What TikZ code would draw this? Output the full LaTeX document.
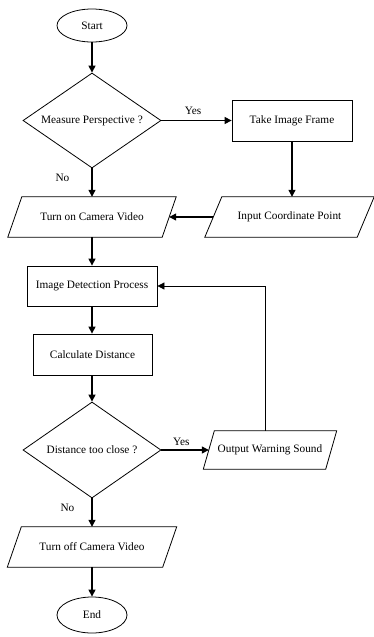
\documentclass[tikz,border=0pt]{standalone}
\usepackage{fontspec}
\setmainfont{Liberation Serif}
\usetikzlibrary{shapes.geometric,arrows.meta,calc}
\begin{document}
\begin{tikzpicture}[x=1pt,y=1pt,
  every node/.style={font=\fontsize{11.3}{13}\selectfont, inner sep=0pt},
  box/.style={draw, line width=0.8pt, rectangle},
  term/.style={draw, line width=0.8pt, ellipse, minimum width=70pt, minimum height=33pt},
  dec/.style={draw, line width=0.8pt, diamond, aspect=1.45, minimum width=138pt, minimum height=95pt},
  io/.style={rectangle, minimum height=40pt},
  pline/.style={line width=0.8pt},
  conn/.style={line width=1.2pt, -{Triangle[length=7pt,width=7pt]}},
  lab/.style={font=\fontsize{11.3}{13}\selectfont}
]
\useasboundingbox (0,0) rectangle (373,-637);
\node[term] (start) at (92,-25.5) {Start};
\node[dec] (d1) at (92,-120.5) {Measure Perspective ?};
\node[box, minimum width=120pt, minimum height=41pt] (take) at (292,-120.5) {Take Image Frame};
\node[io, minimum width=154pt] (on) at (92,-217) {Turn on Camera Video};
\node[io, minimum width=152pt] (inp) at (289.5,-217) {Input Coordinate Point};
\node[box, minimum width=130pt, minimum height=40pt] (det) at (92,-286) {Image Detection Process};
\node[box, minimum width=119pt, minimum height=41pt] (calc) at (92.5,-354.5) {Calculate Distance};
\node[dec, minimum height=96pt] (d2) at (92,-450) {Distance too close ?};
\node[io, minimum width=122pt, minimum height=38pt] (out) at (270,-450) {Output Warning Sound};
\node[io, minimum width=155pt] (off) at (92,-547) {Turn off Camera Video};
\node[term, minimum height=36pt] (end) at (92,-615) {End};

% parallelogram outlines
\draw[pline] ($(on.north west)+(7,0)$) -- ($(on.north east)+(7,0)$) -- ($(on.south east)+(-7,0)$) -- ($(on.south west)+(-7,0)$) -- cycle;
\draw[pline] ($(inp.north west)+(8.5,0)$) -- ($(inp.north east)+(8.5,0)$) -- ($(inp.south east)+(-8.5,0)$) -- ($(inp.south west)+(-8.5,0)$) -- cycle;
\draw[pline] ($(out.north west)+(5.5,0)$) -- ($(out.north east)+(5.5,0)$) -- ($(out.south east)+(-5.5,0)$) -- ($(out.south west)+(-5.5,0)$) -- cycle;
\draw[pline] ($(off.north west)+(7,0)$) -- ($(off.north east)+(7,0)$) -- ($(off.south east)+(-7,0)$) -- ($(off.south west)+(-7,0)$) -- cycle;

% connectors
\draw[conn] (start) -- (d1);
\draw[conn] (d1.east) -- (take.west) node[lab, pos=0.45, above=5pt] {Yes};
\draw[conn] (take.south) -- (take.south |- inp.north);
\draw[conn] (d1.south) -- (on.north) node[lab, pos=0.35, left=22pt] {No};
\draw[conn] (inp.west) -- (on.east);
\draw[conn] (on.south) -- (det.north);
\draw[conn] (det.south) -- (calc.north -| det.south);
\draw[conn] (calc.south -| d2.north) -- (d2.north);
\draw[conn] (d2.east) -- (out.west) node[lab, pos=0.42, above=4pt] {Yes};
\coordinate (fb) at (265,-286);
\draw[line width=0.8pt, -{Triangle[length=7pt,width=7pt]}] (fb |- out.north) -- (fb) -- (det.east);
\draw[conn] (d2.south) -- (off.north) node[lab, pos=0.35, left=17pt] {No};
\draw[conn] (off.south) -- (end.north);
\end{tikzpicture}
\end{document}
